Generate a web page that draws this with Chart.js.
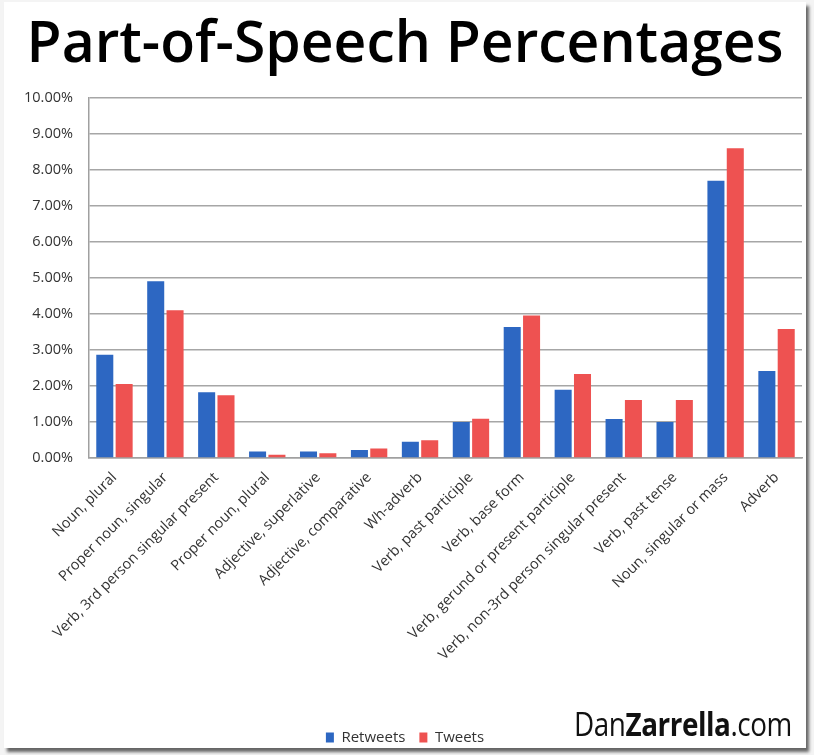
<!DOCTYPE html>
<html>
<head>
<meta charset="utf-8">
<script src="https://cdn.jsdelivr.net/npm/chart.js@4.4.1/dist/chart.umd.min.js"></script>
<style>
  html, body { margin: 0; padding: 0; background: #f4f4f4; }
  #card {
    position: absolute; left: 4px; top: 2px; width: 802px; height: 746px;
    background: #fff; box-shadow: 3px 4px 3px #666;
  }
  #wrap { position: absolute; left: 0; top: 0; width: 814px; height: 755px; }
  #brand {
    position: absolute; left: 574px; top: 702px;
    font-family: "Open Sans", sans-serif;
    font-size: 32px; color: #111; letter-spacing: -0.5px;
    transform: scaleX(0.87); transform-origin: left top; white-space: nowrap;
  }
  #brand b { font-weight: 700; }
</style>
</head>
<body>
<div id="card"></div>
<div id="wrap"><canvas id="chart" width="814" height="755"></canvas></div>
<div id="brand">Dan<b>Zarrella</b>.com</div>
<script>
// categories and series (percent)
const categories = [
  "Noun, plural",
  "Proper noun, singular",
  "Verb, 3rd person singular present",
  "Proper noun, plural",
  "Adjective, superlative",
  "Adjective, comparative",
  "Wh-adverb",
  "Verb, past participle",
  "Verb, base form",
  "Verb, gerund or present participle",
  "Verb, non-3rd person singular present",
  "Verb, past tense",
  "Noun, singular or mass",
  "Adverb"
]
const retweets = [2.86, 4.90, 1.82, 0.18, 0.18, 0.22, 0.45, 1.00, 3.63, 1.89, 1.08, 1.00, 7.69, 2.41]
const tweets = [2.05, 4.10, 1.74, 0.09, 0.13, 0.26, 0.49, 1.09, 3.95, 2.33, 1.61, 1.61, 8.59, 3.58]
const yTicks = [0, 1, 2, 3, 4, 5, 6, 7, 8, 9, 10]

const ctx = document.getElementById("chart").getContext("2d")

new Chart(ctx, {
  type: "bar",
  data: {
    labels: categories,
    datasets: [
      {
        label: "Retweets",
        data: retweets,
        backgroundColor: "#2d67c2",
        borderWidth: 0,
        barPercentage: 0.88,
        categoryPercentage: 0.76
      },
      {
        label: "Tweets",
        data: tweets,
        backgroundColor: "#ee5251",
        borderWidth: 0,
        barPercentage: 0.88,
        categoryPercentage: 0.76
      }
    ]
  },
  options: {
    responsive: false,
    animation: false,
    layout: { padding: { left: 8, right: 12, top: 6, bottom: 0 } },
    plugins: {
      title: {
        display: true,
        text: "Part-of-Speech Percentages",
        color: "#000",
        font: { family: "Open Sans", size: 57, weight: "600" },
        padding: { top: 6, bottom: 17 }
      },
      legend: {
        position: "bottom",
        labels: {
          boxWidth: 8,
          boxHeight: 10,
          color: "#333",
          font: { family: "Open Sans", size: 15 },
          padding: 14
        }
      },
      tooltip: { enabled: false }
    },
    scales: {
      x: {
        grid: { display: false },
        border: { display: true, color: "#a0a0a0", width: 1.5 },
        ticks: {
          autoSkip: false,
          maxRotation: 45,
          minRotation: 45,
          color: "#333",
          font: { family: "Open Sans", size: 14.5 }
        },
        afterFit: s => { s.height = 258 }
      },
      y: {
        min: 0,
        max: 10,
        afterBuildTicks: s => { s.ticks = yTicks.map(v => ({ value: v })) },
        grid: { color: "#a6a6a6", lineWidth: 1.5, drawTicks: false },
        border: { display: true, color: "#a0a0a0", width: 1.5 },
        ticks: {
          color: "#333",
          padding: 16,
          font: { family: "Open Sans", size: 14.5 },
          callback: v => v.toFixed(2) + "%"
        },
        afterFit: s => { s.width = 81 }
      }
    }
  }
})
</script>
</body>
</html>
